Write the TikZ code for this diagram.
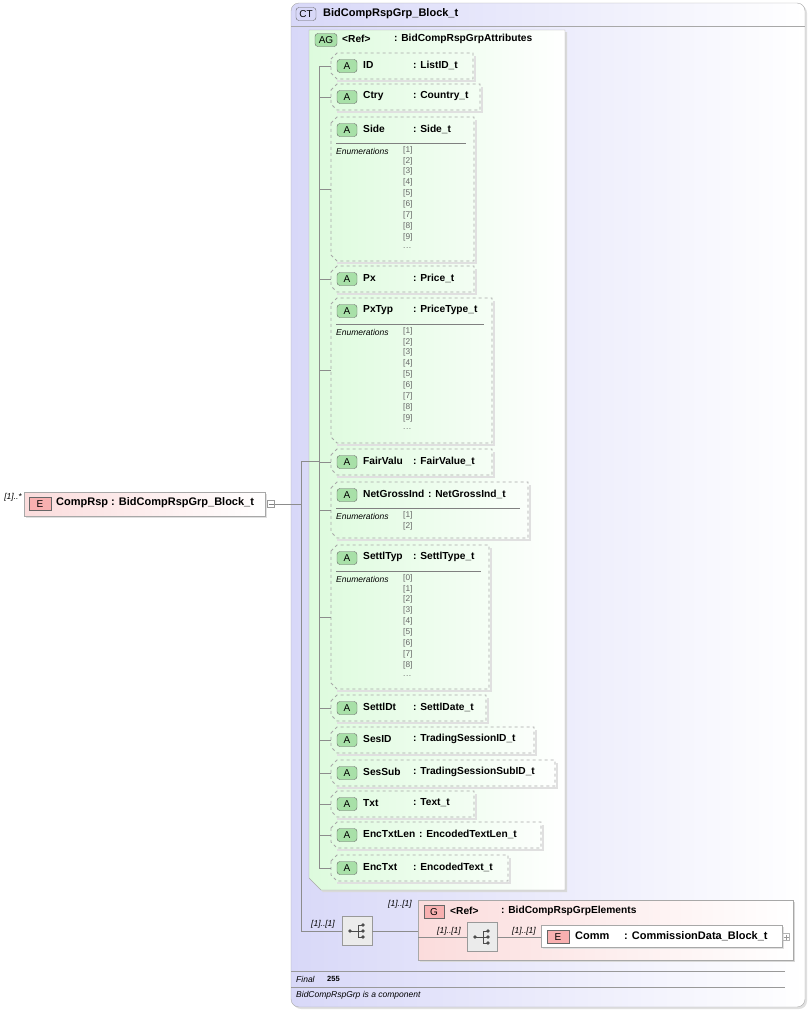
\documentclass[tikz,border=0pt]{standalone}
\usepackage{fontspec}
\setmainfont{Liberation Sans}
\begin{document}
\definecolor{ctfill}{HTML}{D8D8F8}
\definecolor{agfill}{HTML}{DDFBDD}
\definecolor{gfill}{HTML}{FBDCDC}
\definecolor{bord}{HTML}{A8A8A8}
\definecolor{badgeg}{HTML}{A8E0A8}
\definecolor{badger}{HTML}{F8B0B0}
\newcommand\dd{{.\kern0.5pt.\kern0.5pt.}}
\begin{tikzpicture}[x=1pt,y=-1pt,
  lbl/.style={inner sep=0pt,font=\fontsize{10.2}{11}\selectfont\bfseries,anchor=west},
  elbl/.style={inner sep=0pt,font=\fontsize{11}{12}\selectfont\bfseries,anchor=west},
  it/.style={inner sep=0pt,font=\fontsize{8.5}{9}\selectfont\itshape,anchor=west},
  enm/.style={inner sep=0pt,font=\fontsize{8.3}{9}\selectfont,text=black!60,anchor=west},
  box/.style={draw=bord,dashed,line width=0.8pt},
  tree/.style={draw=black!45,line width=0.6pt},
  badge/.style={draw=black!60,rounded corners=3pt,minimum width=20pt,minimum height=13pt,inner sep=0pt,font=\fontsize{10}{11}\selectfont},
  seq/.style={draw=black!40,fill=black!8,minimum width=30pt,minimum height=29pt,inner sep=0pt}]
\useasboundingbox (0,0) rectangle (808,1010);
% CT box
\fill[black!12,rounded corners=8pt] (293,5) rectangle (807,1009);
\shade[left color=ctfill,right color=white,draw=bord,rounded corners=8pt] (291,3) rectangle (805,1007);
\draw[bord] (291,26) -- (805,26);
\node[badge,fill=ctfill,minimum width=20pt,minimum height=13pt] (ct) at (306,14) {CT};
\node[elbl] (ctn) at (323,14) {BidCompRspGrp\_Block\_t};
% AG box
\fill[black!15] (311,32) -- (567,32) -- (567,892) -- (323,892) -- (311,880) -- cycle;
\shade[left color=agfill,right color=white,draw=bord] (309,30) -- (565,30) -- (565,890) -- (321,890) -- (309,878) -- cycle;
\node[badge,fill=badgeg,minimum width=22pt] (ag) at (326,40) {AG};
\node[lbl] at (342,39) {<Ref>};
\node[lbl] at (394,39) {: BidCompRspGrpAttributes};
\draw[tree] (319,67) -- (319,868);
\newcommand\abox[7][413]{%
  \draw[draw=black!12,line width=1.5pt] (#5+2,#3+3) -- (#5+2,#4+2) -- (337,#4+2);
  \draw[box] (331,#3+6) -- (337,#3) -- (#5,#3) -- (#5,#4) -- (337,#4) -- (331,#4-6) -- cycle;
  \node[badge,fill=badgeg,minimum width=20pt,minimum height=13pt] (#2) at (347,#3+13) {A};
  \node[lbl] (#2n) at (363,#3+12) {#6};
  \node[lbl] (#2t) at (#1,#3+12) {: #7};
  \draw[tree] (319,{(#3+#4)/2}) -- (331,{(#3+#4)/2});}
\newcommand\enums[3]{%
  \draw[black!50] (336,#1+26) -- (#2-8,#1+26);
  \node[it] at (336,#1+34) {Enumerations};
  \foreach \v [count=\i from 0] in {#3} {\node[enm] at (403,#1+33+\i*10.9) {\v};}}
\abox{id}{53}{79}{473}{ID}{ListID\_t}
\abox{ctry}{84}{110}{480}{Ctry}{Country\_t}
\abox{side}{117}{261}{474}{Side}{Side\_t}
\enums{117}{474}{[1],[2],[3],[4],[5],[6],[7],[8],[9],\dd}
\abox{px}{266}{292}{474}{Px}{Price\_t}
\abox{pxt}{298}{443}{492}{PxTyp}{PriceType\_t}
\enums{298}{492}{[1],[2],[3],[4],[5],[6],[7],[8],[9],\dd}
\abox{fv}{449}{475}{492}{FairValu}{FairValue\_t}
\abox[428]{ngi}{482}{538}{528}{NetGrossInd}{NetGrossInd\_t}
\enums{482}{528}{[1],[2]}
\abox{st}{545}{689}{489}{SettlTyp}{SettlType\_t}
\enums{545}{489}{[0],[1],[2],[3],[4],[5],[6],[7],[8],\dd}
\abox{sd}{695}{721}{486}{SettlDt}{SettlDate\_t}
\abox{sid}{727}{753}{534}{SesID}{TradingSessionID\_t}
\abox{ss}{760}{786}{555}{SesSub}{TradingSessionSubID\_t}
\abox{txt}{791}{817}{474}{Txt}{Text\_t}
\abox[419]{etl}{822}{848}{541}{EncTxtLen}{EncodedTextLen\_t}
\abox{et}{855}{881}{508}{EncTxt}{EncodedText\_t}
% CompRsp element
\fill[black!12] (26,494) rectangle (267,518);
\shade[left color=gfill,right color=white,draw=bord] (24,492) rectangle (265,516);
\node[badge,fill=badger,minimum width=22pt,minimum height=13pt,rounded corners=0pt] (e) at (40,504) {E};
\node[elbl] (comp) at (56,503) {CompRsp : BidCompRspGrp\_Block\_t};
\node[it,anchor=east] at (22,497) {[1]..*};
\node[draw=black!40,minimum size=7pt,inner sep=0pt] (m) at (271,504) {};
\draw[black!50] (268.5,504) -- (273.5,504);
\coordinate (j) at (301,504);
\draw[tree] (m) -- (j);
\draw[tree] (301,461) -- (301,931);
\draw[tree] (301,461) -- (319,461);
% sequence
\node[seq] (s1) at (357,931) {};
\node[it] at (311,924) {[1]..[1]};
\draw[tree] (301,931) -- (s1.west);
% group
\fill[black!15] (420,902) rectangle (795,962);
\shade[left color=gfill,right color=white,draw=bord] (418,900) rectangle (793,960);
\node[it] at (388,904) {[1]..[1]};
\node[badge,fill=badger,rounded corners=0pt,minimum width=20pt,minimum height=13pt] (g) at (434,912) {G};
\node[lbl] at (450,911) {<Ref>};
\node[lbl] at (501,911) {: BidCompRspGrpElements};
\draw[tree] (s1.east) -- (418,931);
\node[seq] (s2) at (482,937) {};
\draw[tree] (418,937) -- (s2.west);
\node[it] at (437,931) {[1]..[1]};
\node[it] at (512,931) {[1]..[1]};
\fill[black!12] (543,927) rectangle (784,949);
\draw[bord,fill=white] (541,925) rectangle (782,947);
\node[badge,fill=badger,rounded corners=0pt,minimum width=22pt,minimum height=13pt] (ce) at (558,937) {E};
\node[elbl] at (575,936) {Comm};
\node[elbl] at (624,936) {: CommissionData\_Block\_t};
\node[draw=black!30,minimum size=7pt,inner sep=0pt] (p) at (786,937) {};
\draw[black!40] (783.5,937) -- (788.5,937) (786,934.5) -- (786,939.5);
\draw[tree] (s2.east) -- (541,937);
\foreach \s in {s1,s2}{
  \fill[black!70] ([xshift=-7pt]\s.center) circle (1.8pt);
  \draw[black!70,line width=0.8pt] ([xshift=-7pt]\s.center) -- ([xshift=1pt]\s.center)
    ([xshift=1pt,yshift=6pt]\s.center) -- ([xshift=1pt,yshift=-6pt]\s.center);
  \foreach \dy in {-6,0,6}{\draw[black!70,line width=0.8pt] ([xshift=1pt,yshift=\dy pt]\s.center) -- ([xshift=5pt,yshift=\dy pt]\s.center);
    \fill[black!70] ([xshift=6pt,yshift=\dy pt]\s.center) circle (1.8pt);}}
% footer
\draw[black!40] (291,971) -- (785,971);
\node[it] at (296,979) {Final};
\node[lbl,font=\fontsize{7.5}{8}\selectfont\bfseries] at (327,979) {255};
\draw[black!40] (291,987) -- (785,987);
\node[it] at (296,995) {BidCompRspGrp is a component};
\end{tikzpicture}
\end{document}
